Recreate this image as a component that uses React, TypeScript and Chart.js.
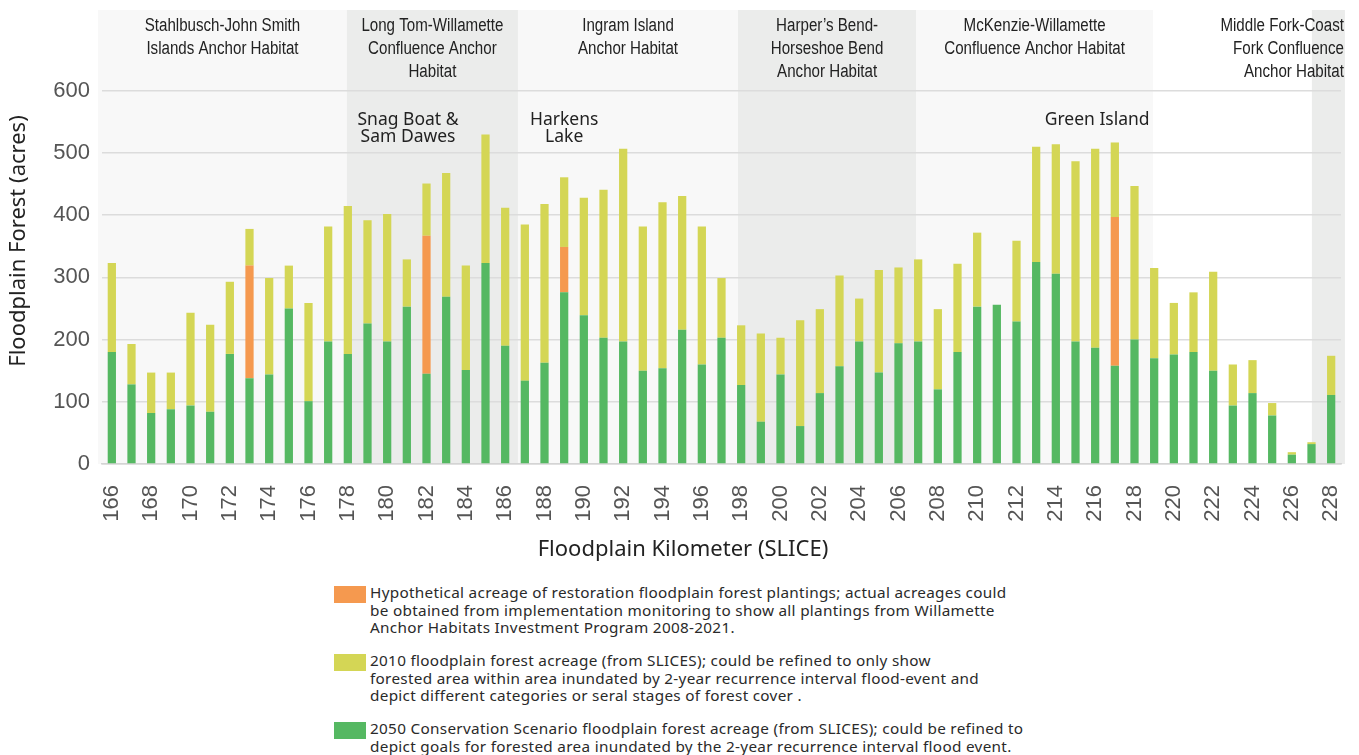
import React, { useEffect, useRef } from 'react';
import { Chart, registerables } from 'chart.js';

Chart.register(...registerables);

const kilometers = [
  '166', '167', '168', '169', '170', '171', '172', '173', '174', '175',
  '176', '177', '178', '179', '180', '181', '182', '183', '184', '185',
  '186', '187', '188', '189', '190', '191', '192', '193', '194', '195',
  '196', '197', '198', '199', '200', '201', '202', '203', '204', '205',
  '206', '207', '208', '209', '210', '211', '212', '213', '214', '215',
  '216', '217', '218', '219', '220', '221', '222', '223', '224', '225',
  '226', '227', '228',
];

// 2050 Conservation Scenario (green, bottom of stack)
const forest2050 = [
  180, 128, 82, 88, 94, 84, 177, 138, 144, 250,
  101, 197, 177, 226, 197, 253, 145, 269, 151, 323,
  190, 134, 163, 276, 239, 203, 197, 150, 154, 216,
  160, 203, 127, 68, 144, 61, 114, 157, 197, 147,
  194, 197, 120, 180, 253, 256, 229, 325, 306, 197,
  187, 158, 200, 170, 176, 180, 150, 94, 114, 78,
  15, 32, 111,
];

// Hypothetical restoration plantings (orange, middle of stack)
const plantings = [
  0, 0, 0, 0, 0, 0, 0, 181, 0, 0,
  0, 0, 0, 0, 0, 0, 222, 0, 0, 0,
  0, 0, 0, 73, 0, 0, 0, 0, 0, 0,
  0, 0, 0, 0, 0, 0, 0, 0, 0, 0,
  0, 0, 0, 0, 0, 0, 0, 0, 0, 0,
  0, 239, 0, 0, 0, 0, 0, 0, 0, 0,
  0, 0, 0,
];

// 2010 floodplain forest (yellow, top of stack)
const forest2010 = [
  143, 65, 65, 59, 149, 140, 116, 59, 155, 69,
  158, 185, 238, 166, 205, 76, 84, 199, 168, 207,
  222, 251, 255, 112, 189, 238, 310, 232, 267, 215,
  222, 96, 96, 142, 59, 170, 135, 146, 69, 165,
  122, 132, 129, 142, 119, 0, 130, 185, 208, 290,
  320, 120, 247, 145, 83, 96, 159, 66, 53, 20,
  4, 3, 63,
];

const yTicks = [0, 100, 200, 300, 400, 500, 600];

// Anchor habitat bands, in floodplain kilometres
const habitatFrom = [165.3, 177.95, 186.65, 197.84, 206.9, 218.94, 227.02];
const habitatTo = [177.95, 186.65, 197.84, 206.9, 218.94, 227.02, 228.7];
const habitatShade = ['light', 'dark', 'light', 'dark', 'light', 'none', 'dark'];
const habitatNames = [
  ['Stahlbusch-John Smith', 'Islands Anchor Habitat'],
  ['Long Tom-Willamette', 'Confluence Anchor', 'Habitat'],
  ['Ingram Island', 'Anchor Habitat'],
  ['Harper’s Bend-', 'Horseshoe Bend', 'Anchor Habitat'],
  ['McKenzie-Willamette', 'Confluence Anchor Habitat'],
  [],
  ['Middle Fork-Coast', 'Fork Confluence', 'Anchor Habitat'],
];

const siteNames = [['Snag Boat &', 'Sam Dawes'], ['Harkens', 'Lake'], ['Green Island']];
const siteKm = [181.06, 189.0, 216.1];

const xTitle = 'Floodplain Kilometer (SLICE)';
const yTitle = 'Floodplain Forest (acres)';

const legendPlantings = [
  'Hypothetical acreage of restoration floodplain forest plantings; actual acreages could',
  'be obtained from implementation monitoring to show all plantings from Willamette',
  'Anchor Habitats Investment Program 2008-2021.',
];
const legend2010 = [
  '2010 floodplain forest acreage (from SLICES); could be refined to only show',
  'forested area within area inundated by 2-year recurrence interval flood-event and',
  'depict different categories or seral stages of forest cover .',
];
const legend2050 = [
  '2050 Conservation Scenario floodplain forest acreage (from SLICES); could be refined to',
  'depict goals for forested area inundated by the 2-year recurrence interval flood event.',
];

const GREEN = '#55b862';
const YELLOW = '#d4d655';
const ORANGE = '#f5994f';
const LIGHT = '#f8f8f8';
const DARK = '#ebeceb';

const ARIAL = '"Liberation Sans", Arial, sans-serif';
const GEO = '"Noto Sans", "Open Sans", sans-serif';

const firstKm = Number(kilometers[0]);

const habitatPlugin = {
  id: 'habitats',
  beforeDraw(chart: any) {
    const { ctx, chartArea, scales } = chart;
    const x = scales.x;
    ctx.save();
    habitatFrom.forEach((from, i) => {
      const shade = habitatShade[i];
      if (shade === 'none') return;
      const x0 = x.getPixelForValue(from - firstKm);
      const x1 = x.getPixelForValue(habitatTo[i] - firstKm);
      ctx.fillStyle = shade === 'dark' ? DARK : LIGHT;
      ctx.fillRect(x0, chartArea.top, x1 - x0, chartArea.bottom - chartArea.top);
    });
    ctx.restore();
  },
  afterDraw(chart: any) {
    const { ctx, chartArea, scales } = chart;
    const x = scales.x;
    ctx.save();
    ctx.fillStyle = '#222';
    ctx.textBaseline = 'middle';
    // condensed anchor-habitat headers
    const sx = 0.84;
    ctx.font = '18px ' + ARIAL;
    habitatNames.forEach((lines, i) => {
      if (!lines.length) return;
      const x0 = x.getPixelForValue(habitatFrom[i] - firstKm);
      const x1 = x.getPixelForValue(habitatTo[i] - firstKm);
      const last = i === habitatNames.length - 1;
      ctx.textAlign = last ? 'right' : 'center';
      const tx = last ? x1 - 1 : (x0 + x1) / 2;
      lines.forEach((line, j) => {
        ctx.save();
        ctx.translate(tx, chartArea.top + 16 + j * 23);
        ctx.scale(sx, 1);
        ctx.fillText(line, 0, 0);
        ctx.restore();
      });
    });
    ctx.font = '17.5px ' + GEO;
    ctx.textAlign = 'center';
    siteNames.forEach((lines, i) => {
      const tx = x.getPixelForValue(siteKm[i] - firstKm);
      lines.forEach((line, j) => {
        ctx.fillText(line, tx, chartArea.top + 110 + j * 17);
      });
    });
    // axis titles
    ctx.font = '22px ' + GEO;
    ctx.fillStyle = '#222';
    ctx.textAlign = 'center';
    ctx.fillText(xTitle, 683, 550);
    ctx.save();
    ctx.translate(19, 241);
    ctx.rotate(-Math.PI / 2);
    ctx.fillText(yTitle, 0, 0);
    ctx.restore();
    ctx.restore();
  },
};

function LegendItem({ color, lines, top }: { color: string; lines: string[]; top: number }) {
  return (
    <div style={{ position: 'absolute', left: 334, top, display: 'flex' }}>
      <div style={{ width: 32, height: 17, background: color, marginTop: 2, flex: 'none' }} />
      <div
        style={{
          marginLeft: 4,
          fontFamily: GEO,
          fontSize: 15.3,
          letterSpacing: '0.3px',
          lineHeight: '17.5px',
          color: '#2a2a2a',
          whiteSpace: 'nowrap',
        }}
      >
        {lines.map((l, i) => (
          <div key={i}>{l}</div>
        ))}
      </div>
    </div>
  );
}

export default function App() {
  const canvasRef = useRef<HTMLCanvasElement | null>(null);

  useEffect(() => {
    if (!canvasRef.current) return;
    const chart = new Chart(canvasRef.current, {
      type: 'bar',
      data: {
        labels: kilometers,
        datasets: [
          {
            label: '2050 Conservation Scenario floodplain forest acreage (from SLICES)',
            data: forest2050,
            backgroundColor: GREEN,
          },
          {
            label: 'Hypothetical acreage of restoration floodplain forest plantings',
            data: plantings,
            backgroundColor: ORANGE,
          },
          {
            label: '2010 floodplain forest acreage (from SLICES)',
            data: forest2010,
            backgroundColor: YELLOW,
          },
        ],
      },
      options: {
        animation: false,
        responsive: true,
        maintainAspectRatio: false,
        layout: { padding: { top: 10, right: 18, left: 0, bottom: 0 } },
        datasets: {
          bar: { barPercentage: 1, categoryPercentage: 0.42, borderWidth: 0 },
        },
        plugins: {
          legend: { display: false },
          tooltip: { enabled: false },
        },
        scales: {
          x: {
            stacked: true,
            offset: true,
            grid: { display: false, drawTicks: false },
            border: { display: true, color: '#d4d4d4', width: 1.5 },
            ticks: {
              autoSkip: false,
              minRotation: 90,
              maxRotation: 90,
              padding: 21,
              color: '#555',
              font: { family: ARIAL, size: 22 },
              callback: (_v: any, i: number) => (i % 2 === 0 ? kilometers[i] : ''),
            },
            afterFit: (scale: any) => {
              scale.height = 106;
              scale.paddingLeft = 0;
              scale.paddingRight = 0;
            },
          },
          y: {
            stacked: true,
            min: 0,
            max: 730,
            afterBuildTicks: (scale: any) => {
              scale.ticks = yTicks.map((v) => ({ value: v }));
            },
            grid: { color: '#dcdcdc', lineWidth: 1.5, drawTicks: false },
            border: { display: false },
            ticks: {
              padding: 12,
              color: '#555',
              font: { family: ARIAL, size: 22 },
            },
            afterFit: (scale: any) => {
              scale.width = 102;
              scale.paddingTop = 0;
              scale.paddingBottom = 0;
            },
          },
        },
      },
      plugins: [habitatPlugin],
    });
    return () => chart.destroy();
  }, []);

  return (
    <div style={{ position: 'absolute', left: 0, top: 0, width: 1359, height: 755, background: '#fff' }}>
      <div style={{ position: 'absolute', left: 0, top: 0, width: 1359, height: 570 }}>
        <canvas ref={canvasRef} />
      </div>
      <LegendItem color={ORANGE} lines={legendPlantings} top={584} />
      <LegendItem color={YELLOW} lines={legend2010} top={652} />
      <LegendItem color={GREEN} lines={legend2050} top={720} />
    </div>
  );
}
